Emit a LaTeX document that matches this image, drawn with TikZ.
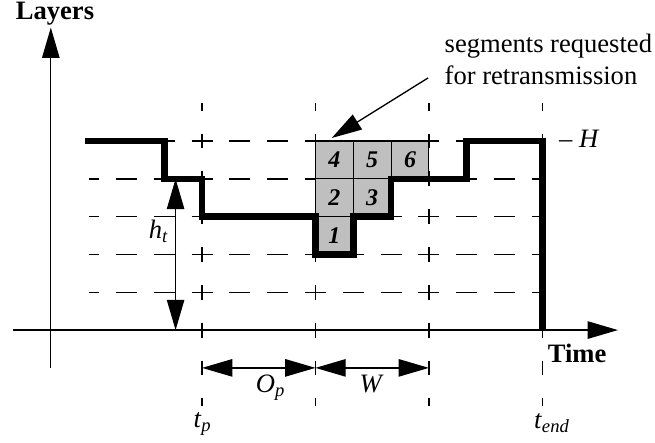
\documentclass[tikz,border=0pt]{standalone}
\usepackage{fontspec}
\setmainfont{Liberation Serif}
\usetikzlibrary{arrows.meta,positioning}
\newcommand{\subl}[2]{\textit{#1}\textsubscript{\textit{#2}}}
\tikzset{
    bigarrow/.style={-{Triangle[length=4mm,width=2.3mm]}},
    bigarrows/.style={{Triangle[length=4mm,width=2.3mm]}-{Triangle[length=4mm,width=2.3mm]}},
    hgrid/.style={line width=0.5pt,dash pattern=on 7.9pt off 6.33pt,dash phase=3.95pt},
    vgrid/.style={line width=0.5pt,dash pattern=on 5.6pt off 8.63pt,dash phase=2.8pt},
    cell/.style={draw,line width=0.4pt,fill=gray!50,minimum size=0.5cm,inner sep=0pt,font=\small\bfseries\itshape},
    layer/.style={line width=2.5pt}
}

\begin{document}
\begin{tikzpicture}[x=0.5cm,y=0.5cm]
        \useasboundingbox (-1.344,-2.963) rectangle (15.98,8.73);
        \coordinate (xs) at (-1,0);
        \coordinate (xe) at (15,0);
        \coordinate (ys) at (0,-1);
        \coordinate (ye) at (0,8);
        \foreach \y in {1,...,5}
            \draw[hgrid] (1,\y) -- (13,\y);
        \foreach \x in {4,7,10,13}
            \draw[vgrid] (\x,6) -- (\x,-2);
        \foreach \x/\y/\n in {7/2/1,7/3/2,8/3/3,7/4/4,8/4/5,9/4/6}
            \node[cell] (c\n) at (\x+0.5,\y+0.5) {\n};
        \draw[layer] (0.9,5) -- (3,5) -- (3,4) -- (4,4) -- (4,3) -- (7,3) -- (7,2) -- (8,2)
            -- (8,3) -- (9,3) -- (9,4) -- (11,4) -- (11,5) -- (13,5) -- (13,0);
        \draw[line width=0.5pt,bigarrow] (xs) -- (xe);
        \draw[line width=0.5pt,bigarrow] (ys) -- (ye);
        \node[font=\bfseries] (layers) at (0.11,8.36) {Layers};
        \node[font=\bfseries] (time) at (13.92,-0.61) {Time};
        \coordinate (htop) at (3.3,4);
        \coordinate (hbot) at (3.3,0);
        \draw[line width=0.5pt,bigarrows] (htop) -- (hbot);
        \node (ht) at (2.86,2.6) {\subl{h}{t}};
        \coordinate (tpd) at (4,-1);
        \coordinate (tsd) at (7,-1);
        \coordinate (twd) at (10,-1);
        \draw[line width=0.5pt,bigarrows] (tpd) -- (tsd);
        \draw[line width=0.5pt,bigarrows] (tsd) -- (twd);
        \node (op) at (5.82,-1.53) {\subl{O}{p}};
        \node (w) at (8.49,-1.43) {\textit{W}};
        \node (tp) at (4.02,-2.49) {\subl{t}{p}};
        \node (tend) at (13.26,-2.46) {\subl{t}{end}};
        \node (h) at (13.98,5.05) {– \textit{H}};
        \node[align=left] (seg) at (13.16,7.17) {segments requested\\for retransmission};
        \coordinate (sega) at (9.98,6.67);
        \coordinate (segb) at (7.43,5.08);
        \draw[line width=0.5pt,bigarrow] (sega) -- (segb);
    \end{tikzpicture}
\end{document}
